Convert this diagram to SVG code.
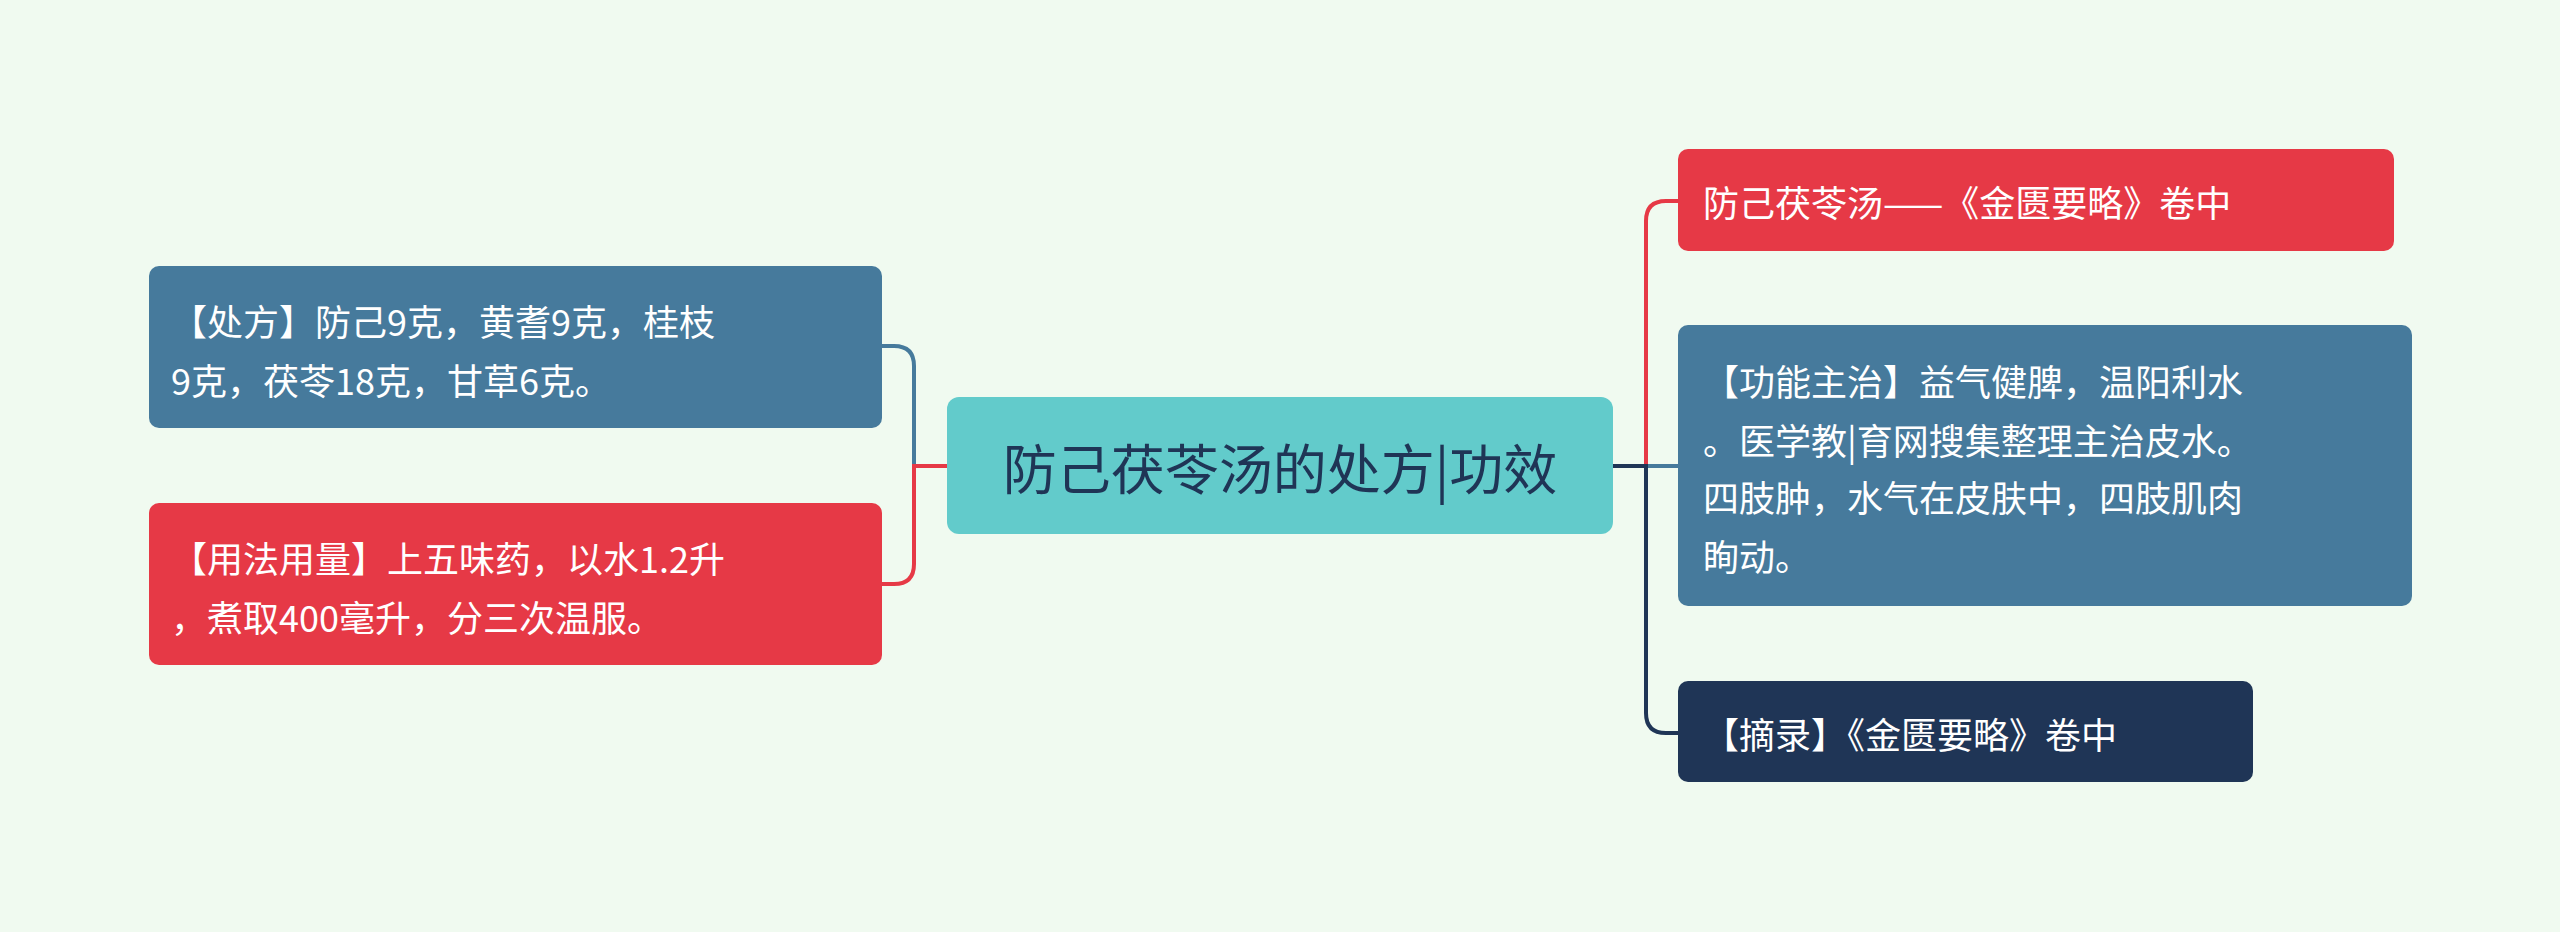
<svg xmlns="http://www.w3.org/2000/svg" width="2560" height="932" viewBox="0 0 2560 932">
<style>
text{font-family:"Noto Sans CJK SC","Liberation Sans",sans-serif;fill:#fff;font-size:36px;dominant-baseline:central}
.c{fill:none;stroke-width:4}
</style>
<rect width="2560" height="932" fill="#F0FAF0"/>
<g id="connectors">
<path class="c" stroke="#467A9C" d="M947,466 H914 V366 Q914,346 894,346 H882"/>
<path class="c" stroke="#E63946" d="M947,466 H914 V564 Q914,584 894,584 H882"/>
<path class="c" stroke="#E63946" d="M1613,466 H1646 V221 Q1646,201 1666,201 H1678"/>
<path class="c" stroke="#467A9C" d="M1613,466 H1678"/>
<path class="c" stroke="#1F3556" d="M1613,466 H1646 V713 Q1646,733 1666,733 H1678"/>
</g>
<g id="center"><rect x="947" y="397" width="666" height="137" rx="12" fill="#62CBCB"/><text x="1280" y="466" text-anchor="middle" style="fill:#1F3556;font-size:54px">防己茯苓汤的处方|功效</text></g>
<g id="l1"><rect x="149" y="266" width="733" height="162" rx="10" fill="#467A9C"/><text x="171" y="320">【处方】防己9克，黄耆9克，桂枝</text><text x="171" y="379">9克，茯苓18克，甘草6克。</text></g>
<g id="l2"><rect x="149" y="503" width="733" height="162" rx="10" fill="#E63946"/><text x="171" y="557">【用法用量】上五味药，以水1.2升</text><text x="171" y="616">，煮取400毫升，分三次温服。</text></g>
<g id="r1"><rect x="1678" y="149" width="716" height="102" rx="10" fill="#E63946"/><text x="1703" y="201">防己茯苓汤——《金匮要略》卷中</text></g>
<g id="r2"><rect x="1678" y="325" width="734" height="281" rx="10" fill="#467A9C"/><text x="1703" y="380">【功能主治】益气健脾，温阳利水</text><text x="1703" y="439">。医学教|育网搜集整理主治皮水。</text><text x="1703" y="496">四肢肿，水气在皮肤中，四肢肌肉</text><text x="1703" y="555">眴动。</text></g>
<g id="r3"><rect x="1678" y="681" width="575" height="101" rx="10" fill="#1F3556"/><text x="1703" y="733">【摘录】《金匮要略》卷中</text></g>
</svg>
